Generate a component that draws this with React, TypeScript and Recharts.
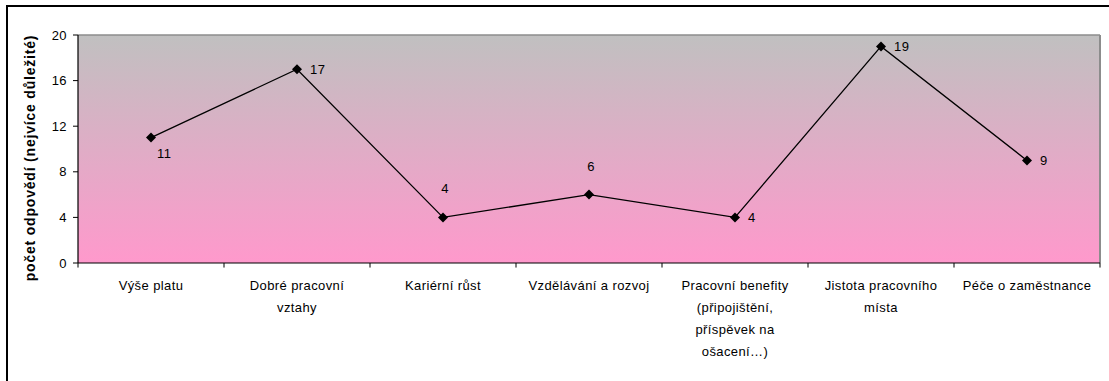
import React from 'react';
import {
  LineChart,
  Line,
  XAxis,
  YAxis,
  CartesianGrid,
  ReferenceLine,
  LabelList,
  Text,
} from 'recharts';

// Odpovědi: co je pro zaměstnance nejvíce důležité
const categories = [
  'Výše platu',
  'Dobré pracovní vztahy',
  'Kariérní růst',
  'Vzdělávání a rozvoj',
  'Pracovní benefity (připojištění, příspěvek na ošacení…)',
  'Jistota pracovního místa',
  'Péče o zaměstnance',
];
const answers = [11, 17, 4, 6, 4, 19, 9];
const yTicks = [0, 4, 8, 12, 16, 20];
const yTitle = 'počet odpovědí (nejvíce důležité)';

// where each value label sits relative to its marker
const labelSide = ['belowRight', 'right', 'above', 'above', 'right', 'right', 'right'];

const data = categories.map((name, idx) => ({ idx, name, value: answers[idx] }));

const FONT = '"Liberation Sans", Arial, sans-serif';
// px strings so Text measures the words with the same font it draws
const textStyle = { fontFamily: FONT, fontSize: '13px', letterSpacing: '0.4px' };

function CategoryTick(props: any) {
  const { x, y, payload } = props;
  return (
    <Text
      x={x}
      y={y}
      width={136}
      textAnchor="middle"
      verticalAnchor="start"
      lineHeight={22}
      fill="#000"
      style={textStyle}
    >
      {categories[payload.value]}
    </Text>
  );
}

function Diamond(props: any) {
  const { cx, cy, index } = props;
  const r = 5;
  return (
    <polygon
      key={`d-${index}`}
      points={`${cx},${cy - r} ${cx + r},${cy} ${cx},${cy + r} ${cx - r},${cy}`}
      fill="#000"
    />
  );
}

function ValueLabel(props: any) {
  const { x, y, value, index } = props;
  const side = labelSide[index];
  let tx = x + 13;
  let ty = y + 5;
  let anchor: 'start' | 'middle' = 'start';
  if (side === 'belowRight') {
    tx = x + 6;
    ty = y + 20;
  } else if (side === 'above') {
    tx = x + 2;
    ty = y - 24;
    anchor = 'middle';
  }
  return (
    <text x={tx} y={ty} textAnchor={anchor} fill="#000" style={textStyle}>
      {value}
    </text>
  );
}

function YTitle() {
  return (
    <text
      x={35}
      y={158}
      transform="rotate(-90, 35, 158)"
      textAnchor="middle"
      fill="#000"
      style={{ fontFamily: FONT, fontSize: '14px', fontWeight: 'bold', letterSpacing: '0.8px' }}
    >
      {yTitle}
    </text>
  );
}

const boundaries = [-0.5, 0.5, 1.5, 2.5, 3.5, 4.5, 5.5, 6.5];

export default function App() {
  return (
    <div style={{ position: 'absolute', left: 0, top: 0, width: 1109, height: 381, background: '#fff', overflow: 'hidden' }}>
      <div
        style={{
          position: 'absolute',
          left: 6,
          top: 5,
          width: 1110,
          height: 400,
          border: '2px solid #000',
          boxSizing: 'border-box',
        }}
      />
      <div style={{ position: 'absolute', left: 0, top: 0 }}>
        <LineChart width={1109} height={381} data={data} margin={{ top: 35, right: 9, left: 0, bottom: 0 }}>
          <defs>
            <linearGradient id="plotFill" x1="0" y1="0" x2="0" y2="1">
              <stop offset="0%" stopColor="#c0c0c0" />
              <stop offset="100%" stopColor="#ff99cc" />
            </linearGradient>
          </defs>
          <CartesianGrid horizontal={false} vertical={false} fill="url(#plotFill)" fillOpacity={1} />
          <XAxis
            type="number"
            dataKey="idx"
            domain={[-0.5, 6.5]}
            ticks={[0, 1, 2, 3, 4, 5, 6]}
            interval={0}
            tick={<CategoryTick />}
            tickLine={false}
            tickSize={0}
            tickMargin={18}
            axisLine={{ stroke: '#000', strokeWidth: 1.2 }}
            height={118}
          />
          <YAxis
            type="number"
            domain={[0, 20]}
            ticks={yTicks}
            interval={0}
            width={78}
            tickSize={5}
            tickMargin={6}
            tickLine={{ stroke: '#000' }}
            axisLine={{ stroke: '#000', strokeWidth: 1.2 }}
            tick={{ fill: '#000', style: textStyle }}
            label={<YTitle />}
          />
          <ReferenceLine y={20} stroke="#8c8c8c" strokeWidth={1.5} />
          <ReferenceLine x={6.5} stroke="#8c8c8c" strokeWidth={2} />
          {boundaries.map((b) => (
            <ReferenceLine
              key={b}
              segment={[
                { x: b, y: 0 },
                { x: b, y: -0.4 },
              ]}
              ifOverflow="visible"
              stroke="#000"
              strokeWidth={1}
            />
          ))}
          <Line
            dataKey="value"
            stroke="#000"
            strokeWidth={1.3}
            dot={<Diamond />}
            activeDot={false}
            isAnimationActive={false}
          >
            <LabelList dataKey="value" content={<ValueLabel />} />
          </Line>
        </LineChart>
      </div>
    </div>
  );
}
